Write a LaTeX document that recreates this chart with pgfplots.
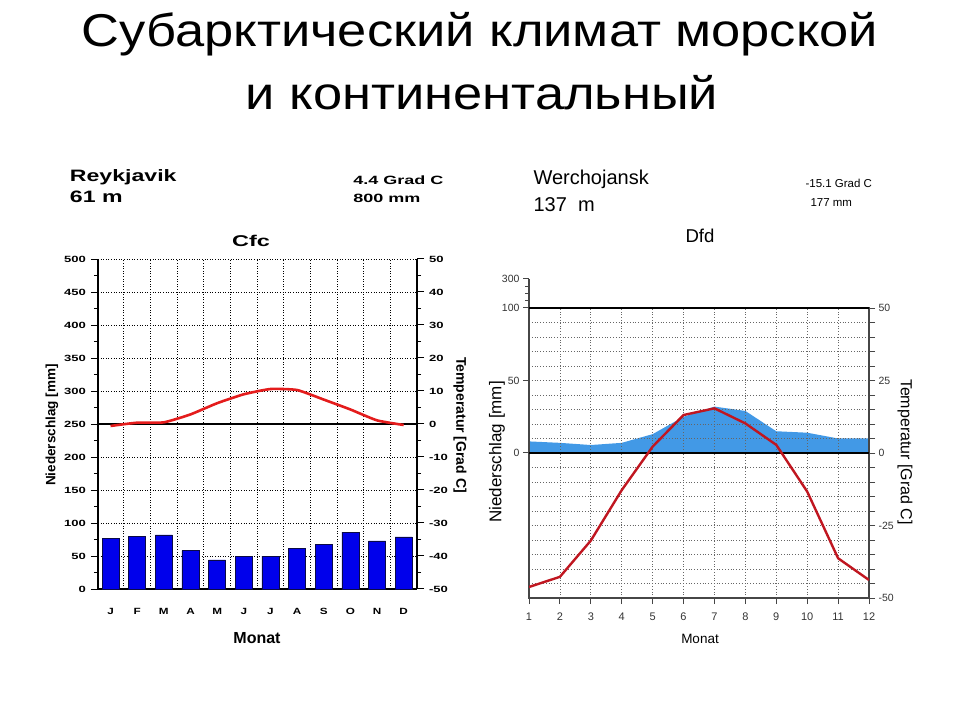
\documentclass[border=0pt]{standalone}
\usepackage{fontspec}
\setmainfont{Liberation Sans}
\usepackage{pgfplots}
\usepackage{pgfplotstable}
\pgfplotsset{compat=1.18}
\definecolor{barblue}{RGB}{0,0,235}
\definecolor{bardraw}{RGB}{10,10,70}
\definecolor{areablue}{RGB}{66,153,230}
\definecolor{tempred}{RGB}{228,28,28}
\definecolor{darkred}{RGB}{192,22,32}
\definecolor{axgray}{RGB}{70,70,70}

% Reykjavik: precipitation [mm], temperature [deg C]
\pgfplotstableread{
m prec temp
1  77 -0.6
2  80  0.4
3  82  0.5
4  58  2.9
5  44  6.3
6  50  9.0
7  50 10.6
8  61 10.3
9  67  7.4
10 86  4.4
11 73  1.1
12 79 -0.3
}\reykjavik

% Werchojansk
\pgfplotstableread{
m prec temp
1   8   -46.2
2   7   -42.7
3   5.5 -30.2
4   7   -12.8
5  13     2.2
6  25    13.1
7  32    15.4
8  29    10.2
9  15     2.8
10 14   -13.3
11 10   -36.3
12 10   -43.8
}\werch

\begin{document}
\begin{tikzpicture}[x=1pt,y=1pt]
\useasboundingbox (0,0) rectangle (960,720);

% title
\node[anchor=base,font=\fontsize{46}{46}\selectfont,xscale=1.14] at (480,673) {Субарктический климат морской};
\node[anchor=base,font=\fontsize{46}{46}\selectfont,xscale=1.14] at (482,610) {и континентальный};

% ---------------- Reykjavik ----------------
\node[anchor=base west,font=\bfseries\fontsize{16.5}{16.5}\selectfont,xscale=1.4] at (65,538) {Reykjavik};
\node[anchor=base west,font=\bfseries\fontsize{16.5}{16.5}\selectfont,xscale=1.4] at (65,517) {61 m};
\node[anchor=base west,font=\bfseries\fontsize{12}{12}\selectfont,xscale=1.5] at (348,535) {4.4 Grad C};
\node[anchor=base west,font=\bfseries\fontsize{12}{12}\selectfont,xscale=1.5] at (348,517) {800 mm};
\node[anchor=base,font=\bfseries\fontsize{15.6}{15.6}\selectfont,xscale=1.5] at (251,473) {Cfc};
\node[anchor=base,font=\bfseries\fontsize{16}{16}\selectfont] at (257,77) {Monat};
\node[rotate=90,font=\bfseries\fontsize{13.5}{13.5}\selectfont] at (52,295) {Niederschlag [mm]};
\node[rotate=-90,font=\bfseries\fontsize{14}{14}\selectfont] at (460,295) {Temperatur [Grad C]};

\begin{axis}[
  at={(98pt,131pt)}, anchor=south west,
  scale only axis, width=319pt, height=330pt,
  xmin=0.53, xmax=12.5, ymin=0, ymax=500,
  axis x line*=bottom, axis y line*=left,
  axis line style={black, line width=1.3pt},
  ybar, bar width=17pt,
  xtick={1,...,12}, xticklabels={J,F,M,A,M,J,J,A,S,O,N,D},
  major x tick style={draw=none},
  xticklabel style={font=\bfseries\fontsize{9}{9}\selectfont, xscale=1.3, yshift=-9pt},
  extra x ticks={1.5,2.5,...,11.5}, extra x tick labels={},
  extra x tick style={grid=major, major tick length=0pt},
  ytick={0,50,...,500}, minor ytick={25,75,...,475},
  tick align=outside, major tick length=7pt, minor tick length=4pt,
  every tick/.style={black, line width=1pt},
  yticklabel style={font=\bfseries\fontsize{9}{9}\selectfont, xscale=1.45},
  /pgf/number format/assume math mode=true,
  ymajorgrids,
  major grid style={black, line width=0.9pt, dash pattern=on 1pt off 1.6pt},
]
\addplot[fill=barblue, draw=bardraw, line width=0.6pt] table[x=m,y=prec]{\reykjavik};
\end{axis}

\begin{axis}[
  at={(98pt,131pt)}, anchor=south west,
  scale only axis, width=319pt, height=330pt,
  xmin=0.53, xmax=12.5, ymin=-50, ymax=50,
  axis x line=none, axis y line*=right,
  axis line style={black, line width=1.3pt},
  ytick={-50,-40,...,50}, minor ytick={-45,-35,...,45},
  tick align=outside, major tick length=7pt, minor tick length=4pt,
  every tick/.style={black, line width=1pt},
  yticklabel style={font=\bfseries\fontsize{9}{9}\selectfont, xscale=1.45},
  /pgf/number format/assume math mode=true,
  extra y ticks={0}, extra y tick labels={},
  extra y tick style={grid=major, major grid style={solid, black, line width=1.3pt}},
]
\addplot[tempred, line width=2.6pt, smooth, tension=0.3] table[x=m,y=temp]{\reykjavik};
\end{axis}

% ---------------- Werchojansk ----------------
\node[anchor=base west,font=\fontsize{20}{20}\selectfont] at (530,535) {Werchojansk};
\node[anchor=base west,font=\fontsize{20}{20}\selectfont] at (530,508) {137\ \ m};
\node[anchor=base west,font=\fontsize{11.5}{11.5}\selectfont] at (802,532) {-15.1 Grad C};
\node[anchor=base west,font=\fontsize{11.5}{11.5}\selectfont] at (807,513) {177 mm};
\node[anchor=base,font=\fontsize{18.6}{18.6}\selectfont] at (700,477) {Dfd};
\node[anchor=base,font=\fontsize{13.5}{13.5}\selectfont] at (700,77) {Monat};
\node[rotate=90,font=\fontsize{17}{17}\selectfont] at (497,268) {Niederschlag [mm]};
\node[rotate=-90,font=\fontsize{16}{16}\selectfont] at (905,268) {Temperatur [Grad C]};

\begin{axis}[
  at={(529pt,122pt)}, anchor=south west,
  scale only axis, width=340pt, height=319pt,
  xmin=1, xmax=12, ymin=-100, ymax=120,
  axis x line=none, axis y line*=left,
  axis line style={axgray, line width=1.3pt},
  ytick={0,50,100,120}, yticklabels={0,50,100,300},
  minor ytick={105,110,115},
  tick align=outside, major tick length=6pt, minor tick length=4pt,
  every tick/.style={axgray, line width=1pt},
  yticklabel style={font=\fontsize{10.5}{10.5}\selectfont, text=black!80},
]
\addplot[fill=areablue, draw=none] table[x=m,y=prec]{\werch} \closedcycle;
\end{axis}

\begin{axis}[
  at={(529pt,122pt)}, anchor=south west,
  scale only axis, width=340pt, height=290pt,
  xmin=1, xmax=12, ymin=-50, ymax=50,
  axis line style={axgray, line width=1.3pt},
  xtick={1,...,12}, xtick pos=left,
  ytick={-50,-25,0,25,50}, minor ytick={-45,-40,...,45}, ytick pos=right,
  tick align=outside, major tick length=6pt, minor tick length=6pt,
  every tick/.style={axgray, line width=1pt},
  ticklabel style={font=\fontsize{10.5}{10.5}\selectfont, text=black!80},
  xticklabel style={yshift=-5pt, font=\fontsize{11}{11}\selectfont},
  /pgf/number format/assume math mode=true,
  xmajorgrids, ymajorgrids, yminorgrids,
  major grid style={gray!80!black, line width=0.7pt, dash pattern=on 0.8pt off 2pt},
  minor grid style={gray!80!black, line width=0.7pt, dash pattern=on 0.8pt off 2pt},
  extra y ticks={0}, extra y tick labels={},
  extra y tick style={grid=major, major grid style={solid, black, line width=1.2pt}},
]
\addplot[darkred, line width=2.4pt] table[x=m,y=temp]{\werch};
\end{axis}
\draw[black, line width=1.4pt] (529,412) -- (869,412);
\end{tikzpicture}
\end{document}
